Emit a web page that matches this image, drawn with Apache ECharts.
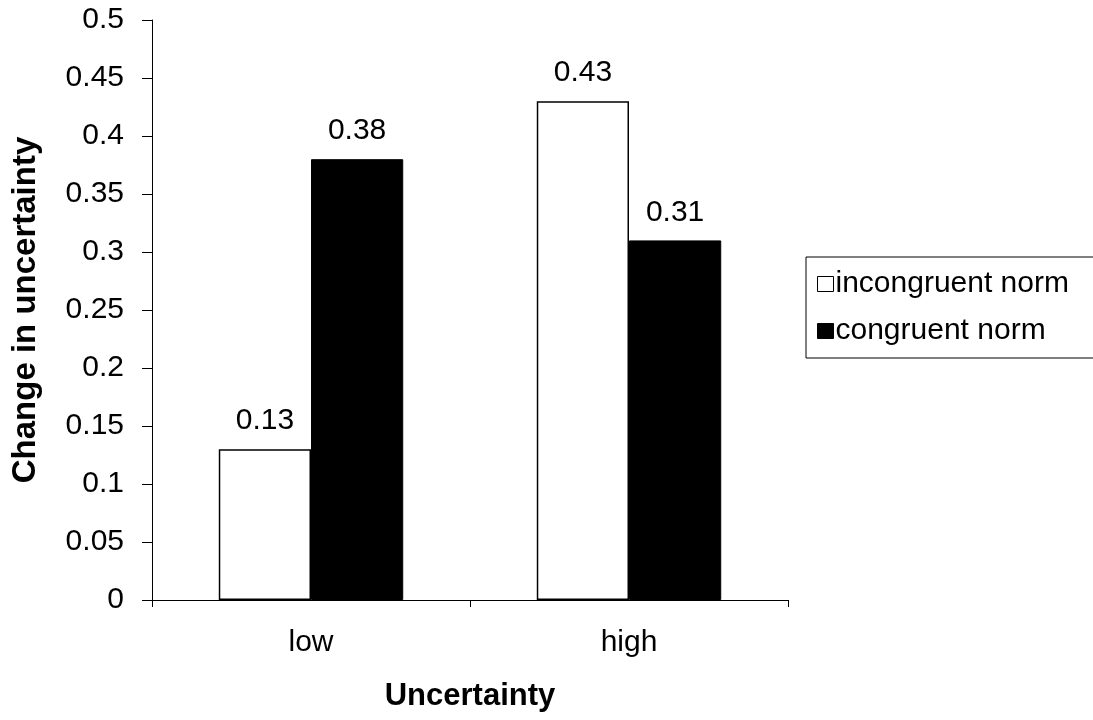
<!DOCTYPE html>
<html lang="en">
<head>
    <meta charset="UTF-8">
    <title>Change in uncertainty</title>
    <style>
        html, body { margin: 0; padding: 0; background: #fff; }
    </style>
</head>
<body>
    <div id="myChart" style="width: 1093px;height:720px;"></div>
</body>
<script src="https://cdn.jsdelivr.net/npm/echarts@6/dist/echarts.min.js"></script>
<script>
    let categories = ['low', 'high'];
    let incongruent = [0.13, 0.43];
    let congruent = [0.38, 0.31];
    let font = '"Liberation Sans", Arial, sans-serif';

    let chart = echarts.init(document.getElementById('myChart'));
    let labelStyle = {
      show: true,
      position: 'top',
      distance: 13,
      color: '#000',
      fontFamily: font,
      fontSize: 30
    };
    let option = {
      animation: false,
      backgroundColor: '#fff',
      grid: { left: 152, right: 305, top: 20, bottom: 120 },
      legend: {
        left: 806,
        top: 257,
        orient: 'vertical',
        icon: 'rect',
        itemWidth: 16,
        itemHeight: 15,
        itemGap: 11,
        padding: [9, 60, 9, 11],
        borderColor: '#000',
        borderWidth: 1,
        itemStyle: { borderWidth: 1 },
        textStyle: { color: '#000', fontFamily: font, fontSize: 30, lineHeight: 36, padding: [0, 0, 0, -3] },
        data: ['incongruent norm', 'congruent norm']
      },
      xAxis: {
        type: 'category',
        data: categories,
        name: 'Uncertainty',
        nameLocation: 'middle',
        nameGap: 81,
        nameTextStyle: { color: '#000', fontFamily: font, fontSize: 31, fontWeight: 'bold' },
        axisLine: { lineStyle: { color: '#000', width: 1 } },
        axisTick: { show: true, length: 7, alignWithLabel: false, lineStyle: { color: '#000' } },
        axisLabel: { color: '#000', fontFamily: font, fontSize: 30, margin: 28 }
      },
      yAxis: {
        type: 'value',
        min: 0,
        max: 0.5,
        interval: 0.05,
        name: 'Change in uncertainty',
        nameLocation: 'middle',
        nameGap: 110,
        nameTextStyle: { color: '#000', fontFamily: font, fontSize: 33, fontWeight: 'bold' },
        splitLine: { show: false },
        axisLine: { show: true, lineStyle: { color: '#000', width: 1 } },
        axisTick: { show: true, length: 10, lineStyle: { color: '#000' } },
        axisLabel: { color: '#000', fontFamily: font, fontSize: 30, margin: 28 }
      },
      series: [{
        name: 'incongruent norm',
        type: 'bar',
        data: incongruent,
        barGap: '0%',
        barCategoryGap: '42%',
        itemStyle: { color: '#fff', borderColor: '#000', borderWidth: 1.5 },
        label: labelStyle
      }, {
        name: 'congruent norm',
        type: 'bar',
        data: congruent,
        itemStyle: { color: '#000', borderColor: '#000', borderWidth: 1 },
        label: labelStyle
      }]
    };
    chart.setOption(option);
</script>
</html>
